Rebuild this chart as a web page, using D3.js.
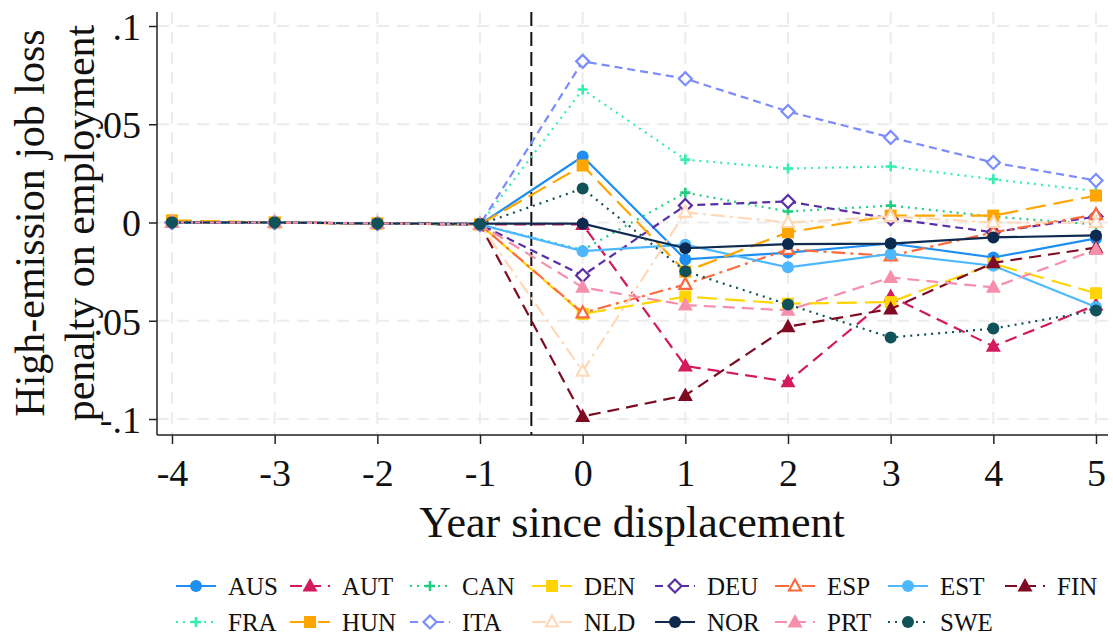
<!DOCTYPE html>
<html>
<head>
<meta charset="utf-8">
<script src="https://cdn.jsdelivr.net/npm/d3@7"></script>
<style>
  body { margin: 0; background: #fff; }
  svg { display: block; }
  text { font-family: "Liberation Serif", "DejaVu Serif", serif; fill: #111; }
</style>
</head>
<body>
<svg id="chart" width="1113" height="640"></svg>
<script>
var years = [-4, -3, -2, -1, 0, 1, 2, 3, 4, 5];
var yTicks = [-0.1, -0.05, 0, 0.05, 0.1];
var yTickLabels = ["-.1", "-.05", "0", ".05", ".1"];
var countries = ["AUS", "AUT", "CAN", "DEN", "DEU", "ESP", "EST", "FIN",
                 "FRA", "HUN", "ITA", "NLD", "NOR", "PRT", "SWE"];

var ausValues = [0, 0, -0.0005, -0.001, 0.0336, -0.0188, -0.0153, -0.0107, -0.0178, -0.0081];
var autValues = [0, 0, -0.0005, -0.001, -0.001, -0.073, -0.081, -0.0376, -0.063, -0.042];
var canValues = [0, 0, -0.0005, -0.001, -0.014, 0.0152, 0.0056, 0.0086, 0.003, -0.001];
var denValues = [0.001, 0, -0.0005, -0.001, -0.0465, -0.0377, -0.0413, -0.0405, -0.021, -0.036];
var deuValues = [0, 0, -0.0005, -0.001, -0.027, 0.0087, 0.0107, 0.002, -0.005, 0.003];
var espValues = [0, 0, -0.0005, -0.001, -0.046, -0.0315, -0.0137, -0.017, -0.005, 0.004];
var estValues = [0, 0, -0.0005, -0.001, -0.0146, -0.0113, -0.0228, -0.016, -0.022, -0.043];
var finValues = [0, 0, -0.0005, -0.001, -0.0987, -0.088, -0.053, -0.044, -0.0205, -0.0128];
var fraValues = [0, 0, -0.0005, -0.001, 0.0677, 0.032, 0.0275, 0.0285, 0.022, 0.016];
var hunValues = [0.001, 0, -0.0005, -0.001, 0.029, -0.025, -0.005, 0.0035, 0.0035, 0.0137];
var itaValues = [0, 0, -0.0005, -0.001, 0.082, 0.0732, 0.0565, 0.0433, 0.0305, 0.0214];
var nldValues = [0, 0, -0.0005, -0.001, -0.0757, 0.0052, 0.0, 0.003, 0.0, 0.0];
var norValues = [0, 0, -0.0005, -0.0006, -0.0006, -0.0131, -0.011, -0.0107, -0.0076, -0.0066];
var prtValues = [0, 0, -0.0005, -0.001, -0.033, -0.042, -0.0447, -0.028, -0.033, -0.0138];
var sweValues = [0, 0, -0.0005, -0.001, 0.0173, -0.0248, -0.0417, -0.0585, -0.054, -0.0448];

var seriesValues = [ausValues, autValues, canValues, denValues, deuValues, espValues, estValues, finValues,
                    fraValues, hunValues, itaValues, nldValues, norValues, prtValues, sweValues];

// look of each series: colour, dash, marker
var styles = {
    AUS: { color: "#1f8ef1", dash: null, marker: "circle" },
    AUT: { color: "#d21a5c", dash: "12,7", marker: "triangle" },
    CAN: { color: "#1fcf7f", dash: "2,5", marker: "plus" },
    DEN: { color: "#ffd400", dash: "20,8", marker: "square" },
    DEU: { color: "#5a2ea6", dash: "8,5", marker: "diamondHollow" },
    ESP: { color: "#ff6a3d", dash: "14,5,3,5", marker: "triangleHollow" },
    EST: { color: "#4db8ff", dash: null, marker: "circle" },
    FIN: { color: "#7f0a22", dash: "12,7", marker: "triangle" },
    FRA: { color: "#33eeb0", dash: "2,5", marker: "plus" },
    HUN: { color: "#ffa500", dash: "20,8", marker: "square" },
    ITA: { color: "#7b8cff", dash: "8,5", marker: "diamondHollow" },
    NLD: { color: "#ffd8b8", dash: "14,5,3,5", marker: "triangleHollow" },
    NOR: { color: "#0f2a4f", dash: null, marker: "circle" },
    PRT: { color: "#f78fac", dash: "12,7", marker: "triangle" },
    SWE: { color: "#10525a", dash: "2,5", marker: "circle" }
};

var svg = d3.select("#chart");
var x = d3.scaleLinear().domain([-4, 5]).range([172, 1096]);
var y = d3.scaleLinear().domain([-0.1, 0.1]).range([419, 26]);
var plotLeft = 157, plotRight = 1108, plotTop = 12, plotBottom = 435;

// grid
svg.selectAll(".vgrid").data(years).enter().append("line")
    .attr("x1", d => x(d)).attr("x2", d => x(d))
    .attr("y1", plotTop).attr("y2", plotBottom)
    .style("stroke", "#ececec").style("stroke-width", 2).style("stroke-dasharray", "12,8");
svg.selectAll(".hgrid").data(yTicks).enter().append("line")
    .attr("x1", plotLeft).attr("x2", plotRight)
    .attr("y1", d => y(d)).attr("y2", d => y(d))
    .style("stroke", "#ececec").style("stroke-width", 2).style("stroke-dasharray", "12,8");

// reference line at treatment
svg.append("line")
    .attr("x1", x(-0.5)).attr("x2", x(-0.5))
    .attr("y1", plotTop).attr("y2", plotBottom)
    .style("stroke", "#111").style("stroke-width", 2).style("stroke-dasharray", "14,6");

// axes
var xAxis = svg.append("g").attr("transform", "translate(0," + plotBottom + ")")
    .call(d3.axisBottom(x).tickValues(years).tickFormat(d => String(d)).tickSize(9).tickPadding(6));
var yAxis = svg.append("g").attr("transform", "translate(" + plotLeft + ",0)")
    .call(d3.axisLeft(y).tickValues(yTicks).tickFormat((d, i) => yTickLabels[i]).tickSize(8).tickPadding(8));
xAxis.select(".domain").attr("d", "M" + plotLeft + ",0H" + plotRight);
yAxis.select(".domain").attr("d", "M0," + plotTop + "V" + plotBottom);
[xAxis, yAxis].forEach(function (a) {
    a.selectAll("path, line").style("stroke", "#222").style("stroke-width", 1.5);
    a.selectAll("text").style("font-size", "38px").style("font-family", "Liberation Serif").style("fill", "#111");
});
xAxis.selectAll("text").attr("dy", "0.95em");
yAxis.selectAll("text").attr("dy", "0.35em");

svg.append("text").attr("x", 632).attr("y", 537).attr("text-anchor", "middle")
    .style("font-size", "44px").text("Year since displacement");
var yTitle = svg.append("text").attr("transform", "translate(44,223) rotate(-90)")
    .attr("text-anchor", "middle").style("font-size", "42px");
yTitle.append("tspan").attr("x", 0).attr("y", 0).text("High-emission job loss");
yTitle.append("tspan").attr("x", 0).attr("y", 50).text("penalty on employment");

function drawMarker(g, type, color) {
    if (type === "circle") {
        g.append("circle").attr("r", 6).style("fill", color);
    } else if (type === "square") {
        g.append("rect").attr("x", -6).attr("y", -6).attr("width", 12).attr("height", 12).style("fill", color);
    } else if (type === "triangle") {
        g.append("path").attr("d", "M0,-8L7.5,5.5L-7.5,5.5Z").style("fill", color);
    } else if (type === "triangleHollow") {
        g.append("path").attr("d", "M0,-6.5L6,4.5L-6,4.5Z").style("fill", "#fff")
            .style("stroke", color).style("stroke-width", 2.2);
    } else if (type === "diamondHollow") {
        g.append("path").attr("d", "M0,-6.5L6.5,0L0,6.5L-6.5,0Z").style("fill", "#fff")
            .style("stroke", color).style("stroke-width", 2.2);
    } else if (type === "plus") {
        g.append("path").attr("d", "M-5,0H5M0,-5V5").style("stroke", color).style("stroke-width", 2.6);
    }
}

var line = d3.line().x((d, i) => x(years[i])).y(d => y(d));

countries.forEach(function (c, k) {
    var st = styles[c];
    var vals = seriesValues[k];
    svg.append("path")
        .datum(vals)
        .attr("d", line)
        .style("fill", "none")
        .style("stroke", st.color)
        .style("stroke-width", 2.2)
        .style("stroke-dasharray", st.dash);
    vals.forEach(function (v, i) {
        var m = svg.append("g").attr("transform", "translate(" + x(years[i]) + "," + y(v) + ")");
        drawMarker(m, st.marker, st.color);
    });
});

// legend
var legendCols = [176, 290, 410, 532, 655, 775, 888, 1005];
var legendRows = [586, 622];
countries.forEach(function (c, k) {
    var st = styles[c];
    var lx = legendCols[k % 8], ly = legendRows[Math.floor(k / 8)];
    var g = svg.append("g").attr("transform", "translate(" + lx + "," + ly + ")");
    g.append("line").attr("x1", 0).attr("x2", 40).attr("y1", 0).attr("y2", 0)
        .style("stroke", st.color).style("stroke-width", 2.2).style("stroke-dasharray", st.dash);
    var m = g.append("g").attr("transform", "translate(20,0)");
    drawMarker(m, st.marker, st.color);
    g.append("text").attr("x", 52).attr("y", 0).attr("dy", "0.35em")
        .style("font-size", "25px").text(c);
});
</script>
</body>
</html>
